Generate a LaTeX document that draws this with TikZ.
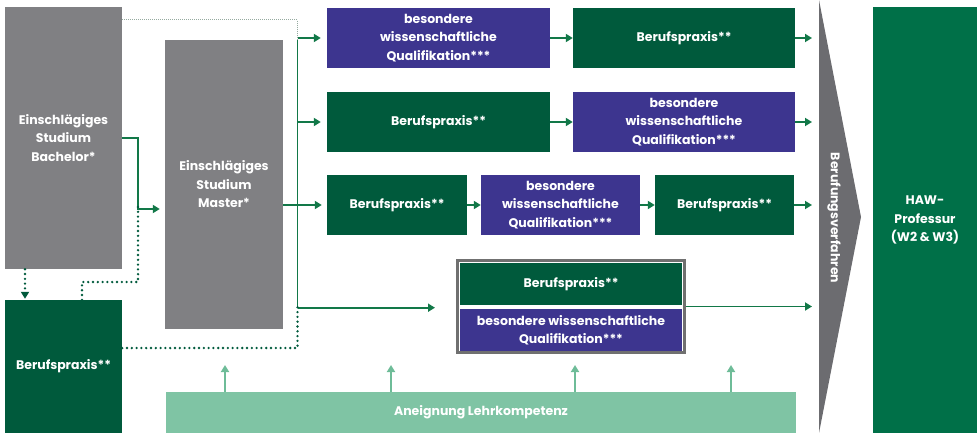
\documentclass[tikz,border=0pt]{standalone}
\usepackage{fontspec}
\setmainfont{Poppins}
\usetikzlibrary{arrows.meta}
\definecolor{boxgray}{RGB}{128,128,131}
\definecolor{dkgreen}{RGB}{0,90,60}
\definecolor{purp}{RGB}{61,53,143}
\definecolor{hawgreen}{RGB}{0,112,72}
\definecolor{tealbox}{RGB}{127,196,164}
\definecolor{arrgray}{RGB}{108,108,112}
\definecolor{linegreen}{RGB}{18,120,72}
\definecolor{tealline}{RGB}{110,188,152}
\definecolor{framegray}{RGB}{112,112,112}
\definecolor{lightdot}{RGB}{150,170,160}
\begin{document}
\begin{tikzpicture}[x=1pt,y=-1pt,
  box/.style={inner sep=0pt, text=white, font=\fontsize{12.5}{18.5}\selectfont\bfseries, align=center},
  graybox/.style={box, fill=boxgray},
  greenbox/.style={box, fill=dkgreen},
  purpbox/.style={box, fill=purp},
  arr/.style={draw=linegreen, line width=1.8pt, -{Triangle[length=7pt,width=8pt]}},
  plainline/.style={draw=linegreen, line width=1.8pt},
  dots/.style={draw=dkgreen, line width=2.6pt, line cap=round, dash pattern=on 0pt off 4.8pt},
  fine/.style={draw=lightdot, line width=1pt, dash pattern=on 1pt off 1pt},
  uparr/.style={draw=tealline, line width=1.8pt, -{Triangle[length=7pt,width=8pt]}}
]
\useasboundingbox (0,0) rectangle (980,433);

% left column
\node[graybox, minimum width=117pt, minimum height=262pt] (bach) at (63.5,138) {Einschlägiges\\Studium\\Bachelor*};
\node[greenbox, minimum width=117pt, minimum height=133pt] (bpL) at (63.5,366.5) {Berufspraxis**};
\node[graybox, minimum width=118pt, minimum height=289pt] (master) at (224,184.5) {Einschlägiges\\Studium\\Master*};

% rows
\node[purpbox, minimum width=223pt, minimum height=60pt] (r1a) at (438.5,38) {besondere\\wissenschaftliche\\Qualifikation***};
\node[greenbox, minimum width=222pt, minimum height=60pt] (r1b) at (684,38) {Berufspraxis**};
\node[greenbox, minimum width=223pt, minimum height=60pt] (r2a) at (438.5,122) {Berufspraxis**};
\node[purpbox, minimum width=222pt, minimum height=60pt] (r2b) at (684,122) {besondere\\wissenschaftliche\\Qualifikation***};
\node[greenbox, minimum width=140pt, minimum height=60pt] (r3a) at (397,205) {Berufspraxis**};
\node[purpbox, minimum width=159pt, minimum height=60pt] (r3b) at (560.5,205) {besondere\\wissenschaftliche\\Qualifikation***};
\node[greenbox, minimum width=139pt, minimum height=60pt] (r3c) at (724.5,205) {Berufspraxis**};

\node[draw=framegray, line width=3pt, minimum width=227pt, minimum height=92pt, inner sep=0pt] (r4) at (571,306.5) {};
\node[greenbox, minimum width=222pt, minimum height=42pt] (r4a) at (571,284) {Berufspraxis**};
\node[purpbox, minimum width=222pt, minimum height=42pt] (r4b) at (571,330) {besondere wissenschaftliche\\Qualifikation***};

% bottom bar
\node[box, fill=tealbox, minimum width=630pt, minimum height=41pt] (teal) at (481,412.5) {Aneignung Lehrkompetenz};

% Berufungsverfahren arrow
\fill[arrgray] (819,0) -- (861,217) -- (819,433) -- cycle;
\node[box, rotate=-90] (beruf) at (834,218) {Berufungsverfahren};

% HAW
\node[box, fill=hawgreen, minimum width=104pt, minimum height=426pt] (haw) at (925,220) {HAW-\\Professur\\(W2 \& W3)};

% coordinates
\coordinate (vtop) at (297.5,39);
\coordinate (vbot) at (297.5,307.7);
\coordinate (jb) at (138,209);
\coordinate (out) at (812,0);

% connectors
\draw[arr] (bach.east) -| (jb) -- ([xshift=-5pt]master.west |- jb);
\draw[plainline] (vtop) -- (vbot);
\draw[arr] (vtop |- r1a.west) -- ([xshift=-6pt]r1a.west);
\draw[arr] (vtop |- r2a.west) -- ([xshift=-6pt]r2a.west);
\draw[arr] (master.east |- r3a.west) -- ([xshift=-5pt]r3a.west);
\draw[arr] (vbot) -- ([xshift=-21pt]r4.west |- vbot);

\draw[arr] (r1a.east) -- (r1b.west);
\draw[arr] (r2a.east) -- (r2b.west);
\draw[arr] (r3a.east) -- (r3b.west);
\draw[arr] (r3b.east) -- (r3c.west);

\draw[arr] (r1b.east) -- (r1b.east -| out);
\draw[arr] (r2b.east) -- (r2b.east -| out);
\draw[arr] (r3c.east) -- (r3c.east -| out);
\draw[arr] (r4.east) -- (r4.east -| out);

% dotted
\coordinate (fa) at (122,20);
\coordinate (fb) at (297.5,20);
\draw[fine] (bach.east |- fa) -- (fb) -- (vtop);

\coordinate (da) at (25,269);
\draw[dots, -{Triangle[length=7pt,width=8pt]}, shorten >=1pt] (bach.south -| da) -- (bpL.north -| da);

\coordinate (db) at (82,282);
\draw[dots] (bpL.north -| db) -- (db) -- (jb |- db) -- ([yshift=3pt]jb);

\coordinate (dc) at (297.5,348);
\draw[dots] (bpL.east |- dc) -- (dc) -- ([yshift=2pt]vbot);

% up arrows
\foreach \xx/\nm in {225/ua,391/ub,575/uc,731/ud}{
  \coordinate (\nm) at (\xx,365);
  \draw[uparr] (teal.north -| \nm) -- (\nm);
}
\end{tikzpicture}
\end{document}
